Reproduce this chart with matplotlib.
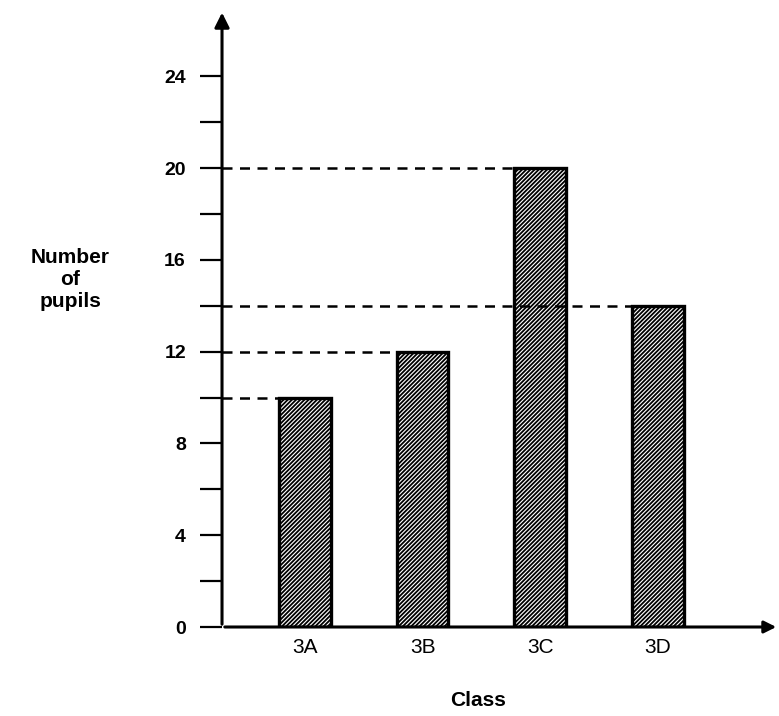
import numpy as np
import matplotlib.pyplot as plt

# data
classes = ['3A', '3B', '3C', '3D']
pupils = [10, 12, 20, 14]
major_ticks = [0, 4, 8, 12, 16, 20, 24]
minor_ticks = [2, 6, 10, 14, 18, 22]

plt.rcParams['font.family'] = ['Liberation Sans', 'DejaVu Sans']
plt.rcParams['hatch.linewidth'] = 1.3

fig = plt.figure(figsize=(7.79, 7.16), dpi=100)
ax = fig.add_axes([0.285, 0.1243, 0.715, 0.862])

x = np.arange(len(classes))
bars = ax.bar(x, pupils, width=0.44, facecolor='white', edgecolor='black',
              linewidth=2.4, hatch='////////', zorder=3)

ax.set_xlim(-0.705, 4.03)
ax.set_ylim(0, 26.9)

# dashed guide lines from the axis to each bar (the 14 line runs over 3C)
for xi, v in zip(x, pupils):
    ax.plot([-0.705, xi - 0.22], [v, v], color='black', lw=1.8,
            dashes=(4, 3), zorder=4)

# axes with arrows
for s in ax.spines.values():
    s.set_visible(False)
ax.annotate('', xy=(-0.705, 26.9), xytext=(-0.705, 0),
            arrowprops=dict(arrowstyle='-|>', color='black', lw=2.2,
                            mutation_scale=22), annotation_clip=False)
ax.annotate('', xy=(4.03, 0), xytext=(-0.705, 0),
            arrowprops=dict(arrowstyle='-|>', color='black', lw=2.2,
                            mutation_scale=18), annotation_clip=False)

ax.set_yticks(major_ticks)
ax.set_yticks(minor_ticks, minor=True)
ax.tick_params(axis='y', which='both', direction='out', length=16, width=1.6,
               labelsize=14, pad=10)
for lab in ax.get_yticklabels():
    lab.set_fontweight('bold')

ax.set_xticks(x)
ax.set_xticklabels(classes, fontsize=15)
ax.tick_params(axis='x', length=0, pad=8)

fig.text(0.09, 0.61, 'Number\nof\npupils', ha='center', va='center',
         fontsize=15, fontweight='bold', linespacing=1.2)
fig.text(0.614, 0.022, 'Class', ha='center', va='center',
         fontsize=15, fontweight='bold')

fig.savefig('out.png', dpi=100)
